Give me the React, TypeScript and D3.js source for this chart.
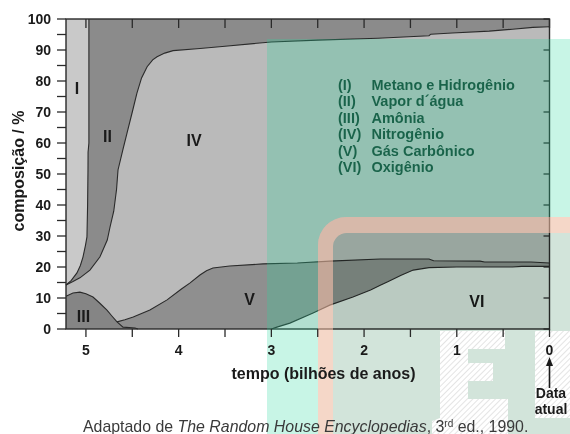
import React from 'react';
import * as d3 from 'd3';

type P = [number, number];

// ---- data (time in billions of years before present, composition %) ----
const methaneBoundary: P[] = [
  [5.215, 14.2], [5.16, 15.6], [5.097, 18.1], [5.06, 20.5], [5.032, 23.2], [5.005, 27],
  [4.989, 29.7], [4.982, 40], [4.978, 51], [4.977, 57], [4.968, 60], [4.968, 100],
];
const nitrogenTop: P[] = [
  [5.215, 14.2], [5.14, 15.3], [5.065, 16.5], [4.957, 19.0], [4.85, 23.2], [4.77, 28.7],
  [4.74, 32.9], [4.7, 38], [4.67, 45], [4.654, 51.3], [4.6, 58], [4.557, 63.2], [4.5, 70],
  [4.45, 76.1], [4.4, 81], [4.34, 84.6], [4.28, 86.8], [4.233, 87.8], [4.15, 89.0],
  [4.06, 89.8], [3.77, 90.5], [3.5, 91.2], [3.0, 92.6], [2.5, 93.2], [1.85, 93.8],
  [1.3, 94.6], [1.28, 95.1], [1.05, 95.5], [0.65, 96.1], [0.4, 96.7], [0.18, 97.3], [0, 97.5],
];
const co2Top: P[] = [
  [4.665, 2.3], [4.58, 3.0], [4.49, 3.9], [4.31, 6.1], [4.125, 9.4], [3.97, 12.9],
  [3.88, 14.8], [3.77, 17.4], [3.7, 18.8], [3.63, 19.7], [3.45, 20.3], [3.09, 21.0],
  [2.72, 21.3], [2.37, 21.9], [1.825, 22.6], [1.3, 22.6], [1.25, 22.0], [0.75, 21.9],
  [0.7, 21.6], [0.2, 21.6], [0, 21.3],
];
const oxygenTop: P[] = [
  [3.0, 0], [2.94, 0.6], [2.8, 1.9], [2.55, 5.2], [2.37, 7.7], [2.12, 10.3], [1.93, 12.6],
  [1.82, 14.2], [1.75, 15.2], [1.6, 17.3], [1.47, 19.0], [1.3, 19.8], [1.0, 20.0],
  [0.4, 20.0], [0.3, 20.2], [0, 20.2],
];
const ammoniaTop: P[] = [
  [5.215, 10.6], [5.14, 11.6], [5.065, 11.9], [5.0, 11.4], [4.924, 10.3], [4.85, 8.3],
  [4.773, 6.1], [4.72, 4.2], [4.665, 2.3], [4.6, 0.6], [4.47, 0.3], [4.44, 0],
];

const xMajorTicks = [5, 4, 3, 2, 1, 0];
const xMinorTicks = [5, 4.5, 4, 3.5, 3, 2.5, 2, 1.5, 1, 0.5, 0];
const yMajorTicks = [0, 10, 20, 30, 40, 50, 60, 70, 80, 90, 100];
const yMinorTicks = [0, 5, 10, 15, 20, 25, 30, 35, 40, 45, 50, 55, 60, 65, 70, 75, 80, 85, 90, 95, 100];

const legendCodes = ['(I)', '(II)', '(III)', '(IV)', '(V)', '(VI)'];
const legendNames = ['Metano e Hidrogênio', 'Vapor d´água', 'Amônia', 'Nitrogênio', 'Gás Carbônico', 'Oxigênio'];

const regionLabels: { text: string; t: number; v: number }[] = [
  { text: 'I', t: 5.097, v: 77.7 },
  { text: 'II', t: 4.768, v: 62.3 },
  { text: 'IV', t: 3.834, v: 61 },
  { text: 'III', t: 5.027, v: 4.2 },
  { text: 'V', t: 3.234, v: 9.7 },
  { text: 'VI', t: 0.783, v: 9.0 },
];

const FONT = '"Liberation Sans", Arial, Helvetica, sans-serif';

export default function App() {
  const W = 570, H = 434;
  const x = d3.scaleLinear().domain([5.215, 0]).range([66, 549.5]);
  const y = d3.scaleLinear().domain([0, 100]).range([329, 19]);
  const [xl, xr] = x.range();
  const [yb, yt] = y.range();

  const areaUnder = d3.area<P>().x(d => x(d[0])).y0(y(0)).y1(d => y(d[1]));
  const areaAbove = d3.area<P>().x(d => x(d[0])).y0(d => y(d[1])).y1(y(100));
  const line = d3.line<P>().x(d => x(d[0])).y(d => y(d[1]));

  const cII = '#8b8b8b';
  const cI = '#c9c9c9';
  const cIV = '#bababa';
  const cV = '#8f8f8f';
  const cIII = '#858585';
  const cVI = '#e2e2e2';
  const lineC = '#2a2a2a';

  // legend anchor
  const lgX = 338, lgNameX = 371.5, lgY0 = 90, lgDy = 16.4;

  // watermark geometry
  const tealPath = `M267,39 H570 V434 H267 Z M318,434 V245 A28,28 0 0 1 346,217 H570 V434 Z`;
  const bandPath = `M318,434 V245 A28,28 0 0 1 346,217 H570 V233 H347 A14,14 0 0 0 333,247 V434 Z`;
  const innerPath = `M333,434 V247 A14,14 0 0 1 347,233 H570 V434 Z`;
  const ePath = `M440,331 H505 V349 H468 V363 H493 V381 H468 V399 H508 V434 H432 V421 L440,418 Z`;
  const fPath = `M535,331 H570 V418 H535 Z`;

  return (
    <svg width={W} height={H} style={{ position: 'absolute', left: 0, top: 0, background: '#fff' }}
      fontFamily={FONT}>
      <defs>
        <pattern id="hatch" width="4" height="4" patternUnits="userSpaceOnUse" patternTransform="rotate(45)">
          <rect width="4" height="4" fill="#ffffff" />
          <line x1="0" y1="0" x2="0" y2="4" stroke="#bdbdbd" strokeWidth="0.8" />
        </pattern>
        <clipPath id="belowPlot">
          <rect x="0" y={yb + 1.5} width={W} height={H} />
        </clipPath>
      </defs>
      <rect x={0} y={0} width={W} height={H} fill="#fff" />

      {/* regions */}
      <rect x={xl} y={yt} width={xr - xl} height={yb - yt} fill={cII} />
      <path d={areaAbove(methaneBoundary) || ''} fill={cI} />
      <path d={areaUnder(nitrogenTop) || ''} fill={cIV} />
      <path d={areaUnder(co2Top) || ''} fill={cV} />
      <path d={areaUnder(ammoniaTop) || ''} fill={cIII} />
      <path d={areaUnder(oxygenTop) || ''} fill={cVI} />

      {/* boundary lines */}
      {[methaneBoundary, nitrogenTop, co2Top, oxygenTop, ammoniaTop].map((s, i) => (
        <path key={i} d={line(s) || ''} fill="none" stroke={lineC} strokeWidth={1.1} />
      ))}

      {/* region labels */}
      {regionLabels.map(r => (
        <text key={r.text} x={x(r.t)} y={y(r.v)} dy="0.36em" textAnchor="middle"
          fontSize={16} fontWeight="bold" fill="#1a1a1a">{r.text}</text>
      ))}

      {/* legend */}
      {legendCodes.map((c, i) => (
        <g key={c} fontSize={14.5} fontWeight="bold" fill="#163d2f">
          <text x={lgX} y={lgY0 + i * lgDy}>{c}</text>
          <text x={lgNameX} y={lgY0 + i * lgDy}>{legendNames[i]}</text>
        </g>
      ))}

      {/* frame */}
      <rect x={xl} y={yt} width={xr - xl} height={yb - yt} fill="none" stroke="#2a2a2a" strokeWidth={1.4} />
      {xMinorTicks.map(t => (
        <line key={'tt' + t} x1={x(t)} x2={x(t)} y1={yt} y2={yt + 9} stroke="#2a2a2a" strokeWidth={1.3} />
      ))}
      {yMajorTicks.map(v => (
        <line key={'rt' + v} x1={xr - 6} x2={xr} y1={y(v)} y2={y(v)} stroke="#2a2a2a" strokeWidth={1.3} />
      ))}

      {/* watermark overlays */}
      <path d={tealPath} fill="rgb(36,216,156)" fillOpacity={0.25} fillRule="evenodd" />
      <path d={bandPath} fill="rgb(237,184,158)" fillOpacity={0.57} />
      <path d={innerPath} fill="rgb(210,228,218)" style={{ mixBlendMode: 'multiply' }} />
      <g clipPath="url(#belowPlot)">
        <path d={ePath} fill="url(#hatch)" />
        <path d={fPath} fill="url(#hatch)" />
      </g>

      {/* y axis */}
      {yMinorTicks.map(v => (
        <line key={'yt' + v} x1={57} x2={xl} y1={y(v)} y2={y(v)} stroke="#2a2a2a" strokeWidth={1.3} />
      ))}
      {yMajorTicks.map(v => (
        <text key={'yl' + v} x={51} y={y(v)} dy="0.36em" textAnchor="end" fontSize={14}
          fontWeight="bold" fill="#1a1a1a">{v}</text>
      ))}
      <text transform={`translate(24,171) rotate(-90)`} textAnchor="middle" fontSize={16}
        fontWeight="bold" fill="#1a1a1a">composição / %</text>

      {/* x axis */}
      {xMinorTicks.map(t => (
        <line key={'xt' + t} x1={x(t)} x2={x(t)} y1={yb} y2={yb + 8} stroke="#2a2a2a" strokeWidth={1.3} />
      ))}
      {xMajorTicks.map(t => (
        <text key={'xl' + t} x={x(t)} y={355} textAnchor="middle" fontSize={14}
          fontWeight="bold" fill="#1a1a1a">{t}</text>
      ))}
      <text x={323.5} y={379} textAnchor="middle" fontSize={16} fontWeight="bold" fill="#1a1a1a">
        tempo (bilhões de anos)
      </text>

      {/* Data atual arrow */}
      <line x1={x(0)} x2={x(0)} y1={388} y2={364} stroke="#1a1a1a" strokeWidth={1.6} />
      <path d={`M${x(0) - 3.5},${366} L${x(0)},${357} L${x(0) + 3.5},${366} Z`} fill="#1a1a1a" />
      <text x={551} y={398} textAnchor="middle" fontSize={14} fontWeight="bold" fill="#1a1a1a">Data</text>
      <text x={551} y={414} textAnchor="middle" fontSize={14} fontWeight="bold" fill="#1a1a1a">atual</text>

      {/* caption */}
      <text x={83} y={432} fontSize={15.9} fill="#3a3a3a">
        Adaptado de <tspan fontStyle="italic">The Random House Encyclopedias</tspan>, 3
        <tspan fontSize={10} dy={-5}>rd</tspan>
        <tspan dy={5}> ed., 1990.</tspan>
      </text>
    </svg>
  );
}
